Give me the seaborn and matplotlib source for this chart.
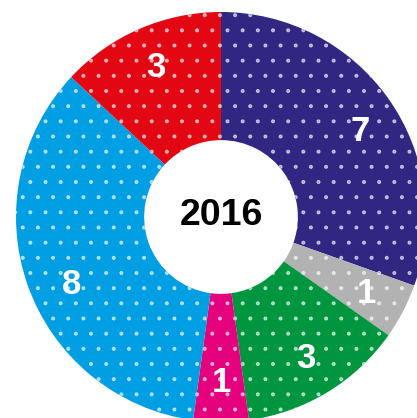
import seaborn as sns
import matplotlib.pyplot as plt
import numpy as np

# Dados do gráfico (2016)
ano = "2016"
valores = [7, 1, 3, 1, 8, 3]
cores = ["#312783", "#b2b2b2", "#009640", "#e5007d", "#009fe3", "#e30613"]

sns.set_theme(style="white")
plt.rcParams['font.family'] = ['Liberation Sans', 'DejaVu Sans']
plt.rcParams['hatch.linewidth'] = 0.8

# dpi 91 para que o padrão de pontos tenha o espaçamento do original
dpi = 91
fig = plt.figure(figsize=(418 / dpi, 419 / dpi), dpi=dpi)
ax = fig.add_axes([0, 0, 1, 1])

# Rosca (donut) começando no topo, sentido horário
wedges, _ = ax.pie(valores, colors=cores, startangle=90, counterclock=False,
                   radius=1.0, wedgeprops=dict(width=0.625, linewidth=0,
                                               edgecolor=(1, 1, 1, 0.6)))
for w in wedges:
    w.set_hatch('.')

# Rótulos em cada fatia
total = sum(valores)
acum = np.cumsum([0] + valores[:-1])
pt = 100 / dpi
for i, v in enumerate(valores):
    ang = 90 - (acum[i] + v / 2) / total * 360
    if i == 4:
        ang = 204
    if i == 0:
        ang = 32
    r = 0.80
    ax.text(r * np.cos(np.radians(ang)), r * np.sin(np.radians(ang)), str(v),
            ha='center', va='center', color='white', fontsize=25 * pt, fontweight='bold')

ax.text(0, 0.01, ano, ha='center', va='center', color='black',
        fontsize=27 * pt, fontweight='bold')

# Enquadramento igual ao da imagem original (círculo cortado à direita e embaixo)
r_px = 205
ax.set_xlim(-221 / r_px, (418 - 221) / r_px)
ax.set_ylim(-(419 - 218) / r_px, 218 / r_px)
ax.set_aspect('equal')
ax.axis('off')

plt.savefig('out.png', dpi=dpi)
